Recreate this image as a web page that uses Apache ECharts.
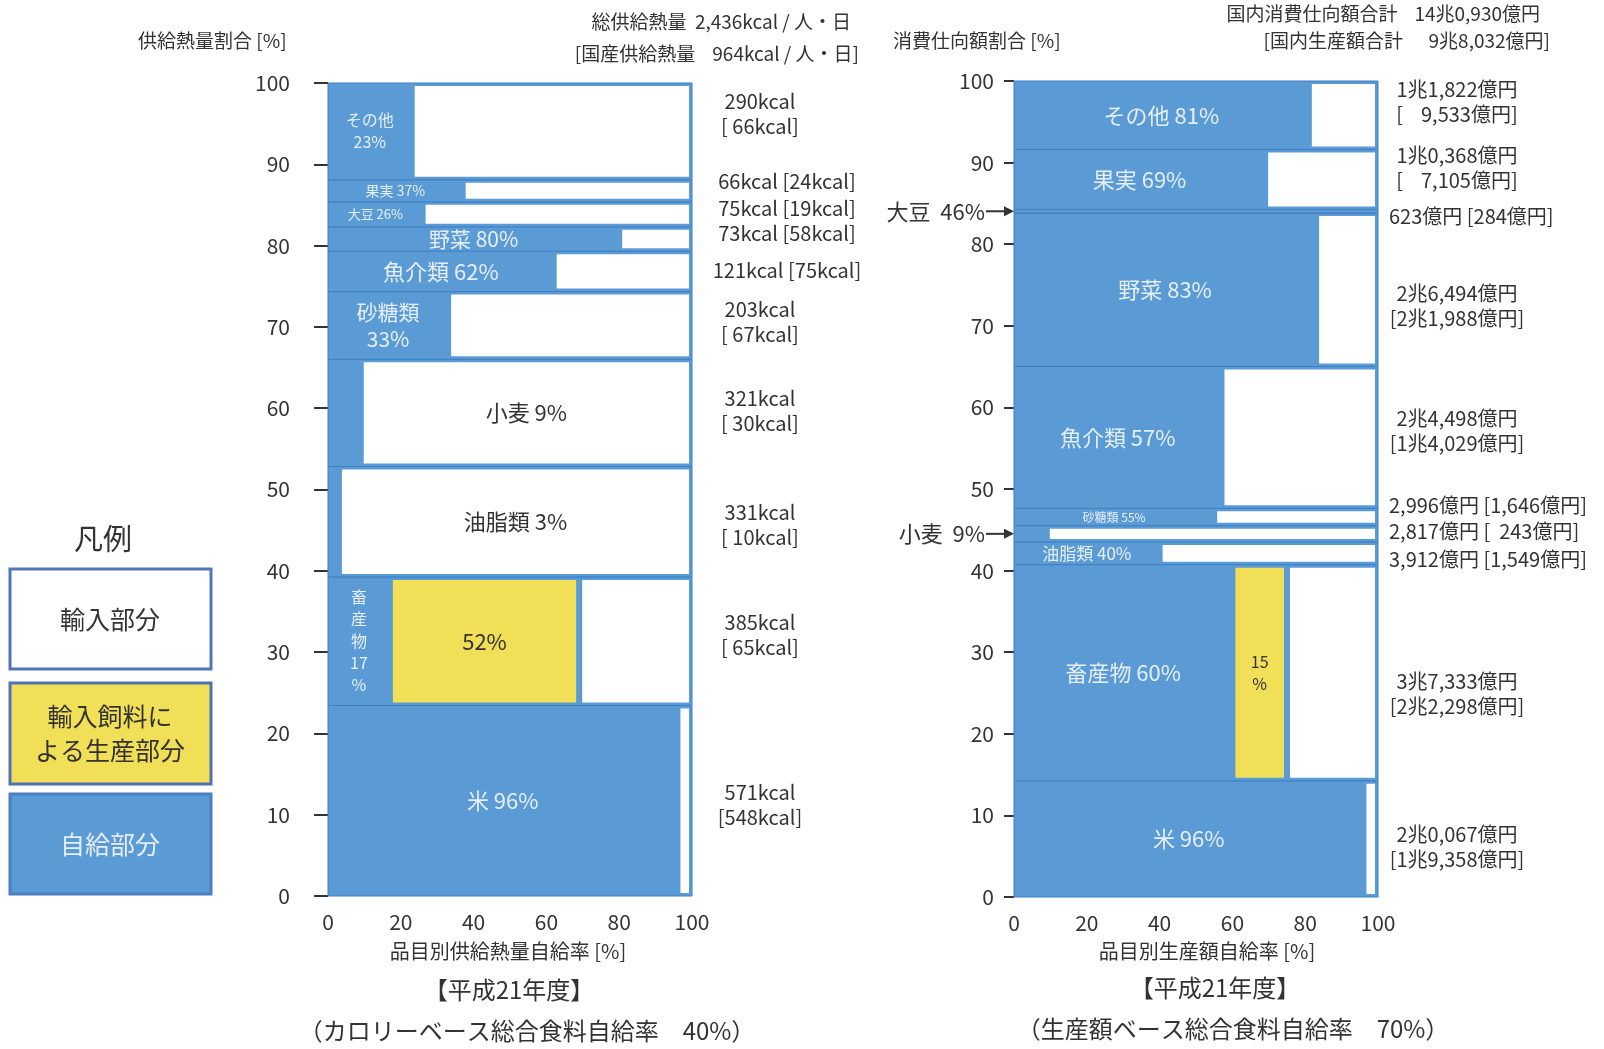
<!DOCTYPE html>
<html>
<head>
<meta charset="utf-8">
<script src="https://cdn.jsdelivr.net/npm/echarts/dist/echarts.min.js"></script>
<style>
  html, body { margin: 0; padding: 0; background: #ffffff; }
  #chart { width: 1604px; height: 1049px; }
</style>
</head>
<body>
<div id="chart"></div>
<script>
// 品目 (bottom to top of each column)
const items = ['米', '畜産物', '油脂類', '小麦', '砂糖類', '魚介類', '野菜', '大豆', '果実', 'その他'];

// カロリーベース: 供給熱量 [kcal/人・日] と国産供給熱量, 品目別自給率 [%]
const kcalTotal    = [571, 385, 331, 321, 203, 121, 73, 75, 66, 290];
const kcalDomestic = [548,  65,  10,  30,  67,  75, 58, 19, 24,  66];
const kcalRate     = [ 96,  17,   3,   9,  33,  62, 80, 26, 37,  23];
const kcalFeedRate = [  0,  52,   0,   0,   0,   0,  0,  0,  0,   0];
const kcalDomesticTotal = 964;

// 生産額ベース: 消費仕向額 [億円] と国内生産額, 品目別自給率 [%]
const valueTotal    = [20067, 37333, 3912, 2817, 2996, 24498, 26494, 623, 10368, 11822];
const valueDomestic = [19358, 22298, 1549,  243, 1646, 14029, 21988, 284,  7105,  9533];
const valueRate     = [   96,    60,   40,    9,   55,    57,    83,  46,    69,    81];
const valueFeedRate = [    0,    15,    0,    0,    0,     0,     0,   0,     0,     0];
const valueDomesticTotal = 98032;

const xTicks = [0, 20, 40, 60, 80, 100];
const yTicks = [0, 10, 20, 30, 40, 50, 60, 70, 80, 90, 100];

// ---- styling ----
const FONT = '"Noto Sans CJK JP", "Noto Sans", sans-serif';
const BLUE = '#5b9bd5';
const EDGE = '#3f7fc3';
const YELLOW = '#f1df58';
const DARK = '#333333';
const LIGHT = '#e6eef8';

// label layout per band (same order as items)
const leftLabelLayout = [
  { mode: 'line', size: 22 },
  { mode: 'vertical', size: 16, lh: 22, feedSize: 22 },
  { mode: 'white', size: 22 },
  { mode: 'white', size: 22 },
  { mode: 'wrap', size: 21, lh: 27 },
  { mode: 'line', size: 22 },
  { mode: 'line', size: 21 },
  { mode: 'line', size: 13 },
  { mode: 'line', size: 14 },
  { mode: 'wrap', size: 16, lh: 22 }
];
const leftNoteLayout = [
  { two: true, dy: 4 }, { two: true, dy: -6 }, { two: true, dy: 3 }, { two: true, dy: -2 },
  { two: true, dy: -4 }, { two: false, dy: -1 }, { two: false, dy: -6 }, { two: false, dy: -6 },
  { two: false, dy: -9 }, { two: true, dy: -17 }
];
const rightLabelLayout = [
  { mode: 'line', size: 22 },
  { mode: 'line', size: 22, feedSize: 16, feedWrap: true },
  { mode: 'line', size: 17 },
  { mode: 'arrow', size: 22 },
  { mode: 'line', size: 12 },
  { mode: 'line', size: 22 },
  { mode: 'line', size: 22 },
  { mode: 'arrow', size: 22 },
  { mode: 'line', size: 22 },
  { mode: 'line', size: 22 }
];
const rightNoteLayout = [
  { two: true, dy: 8 }, { two: true, dy: 21 }, { two: false, dy: 6 }, { two: false, dy: -2 },
  { two: false, dy: -12 }, { two: true, dy: -7 }, { two: true, dy: 16 }, { two: false, dy: 5 },
  { two: true, dy: -12 }, { two: true, dy: -13 }
];

// ---- helpers ----
function cumulativeShares(values) {
  const total = values.reduce((a, b) => a + b, 0);
  const lo = [], hi = [];
  let acc = 0;
  values.forEach(v => {
    lo.push(acc / total * 100);
    acc += v;
    hi.push(acc / total * 100);
  });
  return { lo, hi, total };
}
function withComma(v) {
  return v.toString().replace(/\B(?=(\d{3})+(?!\d))/g, ',');
}
function oku(v) {
  const cho = Math.floor(v / 10000), rest = v % 10000;
  if (cho > 0) return cho + '兆' + Math.floor(rest / 1000) + ',' + String(rest % 1000).padStart(3, '0') + '億円';
  if (v >= 1000) return Math.floor(v / 1000) + ',' + String(v % 1000).padStart(3, '0') + '億円';
  return v + '億円';
}
function kcalNote(i, two) {
  const d = kcalDomestic[i];
  if (two) return kcalTotal[i] + 'kcal\n[' + (d < 100 ? ' ' : '') + d + 'kcal]';
  return kcalTotal[i] + 'kcal [' + d + 'kcal]';
}
function yenNote(i, two) {
  const t = valueTotal[i], d = valueDomestic[i];
  if (two) return oku(t) + '\n[' + (d < 10000 ? '    ' : '') + oku(d) + ']';
  return oku(t) + ' [' + (d < 1000 && t >= 1000 ? '  ' : '') + oku(d) + ']';
}

const kcalShares = cumulativeShares(kcalTotal);
const valueShares = cumulativeShares(valueTotal);

function txt(x, y, text, size, color, align, lh) {
  return {
    type: 'text', x: x, y: y, silent: true,
    style: {
      text: text, fill: color, fontSize: size, fontFamily: FONT,
      align: align || 'center', verticalAlign: 'middle', lineHeight: lh || Math.round(size * 1.25)
    }
  };
}

function makeRender(spec) {
  return function (params, api) {
    const i = params.dataIndex;
    const y0 = api.value(0), y1 = api.value(1);
    const r = spec.rate[i], f = spec.feed[i];
    const pA = api.coord([0, y0]), pB = api.coord([100, y1]);
    const left = pA[0], right = pB[0], bottom = pA[1], top = pB[1];
    const xr = api.coord([r, y0])[0];
    const xf = api.coord([r + f, y0])[0];
    const g = 3;
    const cy = (top + bottom) / 2;
    const kids = [];
    kids.push({
      type: 'rect', shape: { x: left, y: top, width: right - left, height: bottom - top },
      style: { fill: BLUE, stroke: EDGE, lineWidth: 1 }
    });
    const ih = bottom - top - 2 * g;
    if (ih > 0.5) {
      if (f > 0) {
        kids.push({ type: 'rect', shape: { x: xr + g, y: top + g, width: xf - xr - 2 * g, height: ih }, style: { fill: YELLOW } });
      }
      kids.push({ type: 'rect', shape: { x: xf + g, y: top + g, width: right - g - (xf + g), height: ih }, style: { fill: '#ffffff' } });
    }
    // item label
    const L = spec.labels[i];
    const name = items[i];
    const bx = (left + xr) / 2;
    if (L.mode === 'line') {
      kids.push(txt(bx, cy, name + ' ' + r + '%', L.size, LIGHT));
    } else if (L.mode === 'wrap') {
      kids.push(txt(bx, cy, name + '\n' + r + '%', L.size, LIGHT, 'center', L.lh));
    } else if (L.mode === 'vertical') {
      kids.push(txt(bx, cy, name.split('').join('\n') + '\n' + r + '\n%', L.size, LIGHT, 'center', L.lh));
    } else if (L.mode === 'white') {
      kids.push(txt((xf + right) / 2, cy, name + ' ' + r + '%', L.size, DARK));
    } else if (L.mode === 'arrow') {
      const ax = left - 29;
      kids.push(txt(ax, cy, name + '  ' + r + '%', L.size, DARK, 'right'));
      kids.push({ type: 'line', shape: { x1: ax + 1, y1: cy, x2: left - 8, y2: cy }, style: { stroke: DARK, lineWidth: 2 } });
      kids.push({ type: 'polygon', shape: { points: [[left, cy], [left - 10, cy - 5], [left - 10, cy + 5]] }, style: { fill: DARK } });
    }
    if (f > 0) {
      kids.push(txt((xr + xf) / 2, cy, L.feedWrap ? f + '\n%' : f + '%', L.feedSize, DARK, 'center', L.feedWrap ? 22 : null));
    }
    // supply note on the right
    const N = spec.notes[i];
    const noteText = spec.noteText(i, N.two);
    if (N.two) {
      kids.push(txt(spec.noteCenter, cy + N.dy, noteText, 20, DARK, 'center', 25));
    } else {
      kids.push(txt(spec.noteSingleX, cy + N.dy, noteText, 20, DARK, spec.noteSingleAlign));
    }
    return { type: 'group', children: kids };
  };
}

function xAxisOf(gridIndex) {
  return {
    type: 'value', gridIndex: gridIndex, min: xTicks[0], max: xTicks[xTicks.length - 1],
    interval: xTicks[1] - xTicks[0],
    axisLine: { show: false }, axisTick: { show: false }, splitLine: { show: false },
    axisLabel: { fontSize: 21, color: DARK, fontFamily: FONT, margin: 16 }
  };
}
function yAxisOf(gridIndex, tickLen, margin) {
  return {
    type: 'value', gridIndex: gridIndex, min: yTicks[0], max: yTicks[yTicks.length - 1],
    interval: yTicks[1] - yTicks[0],
    axisLine: { show: false }, splitLine: { show: false },
    axisTick: { show: true, length: tickLen, lineStyle: { color: DARK, width: 2 } },
    axisLabel: { fontSize: 21, color: DARK, fontFamily: FONT, margin: margin }
  };
}

function legendBox(y, h, fill, stroke, text, color) {
  return {
    type: 'group', children: [
      { type: 'rect', shape: { x: 10, y: y, width: 201, height: h }, style: { fill: fill, stroke: stroke, lineWidth: 3 } },
      { type: 'text', x: 110, y: y + h / 2, style: { text: text, fill: color, fontSize: 25, fontFamily: FONT, align: 'center', verticalAlign: 'middle', lineHeight: 34 } }
    ]
  };
}
function gtext(x, y, text, size, align) {
  return { type: 'text', x: x, y: y, style: { text: text, fill: DARK, fontSize: size, fontFamily: FONT, align: align || 'center', verticalAlign: 'middle' } };
}

const chart = echarts.init(document.getElementById('chart'), null, { renderer: 'canvas' });
chart.setOption({
  backgroundColor: '#ffffff',
  animation: false,
  grid: [
    { left: 328, top: 83, width: 364, height: 813 },
    { left: 1014, top: 81, width: 364, height: 816 }
  ],
  xAxis: [xAxisOf(0), xAxisOf(1)],
  yAxis: [yAxisOf(0, 14, 38), yAxisOf(1, 10, 20)],
  series: [
    {
      type: 'custom', xAxisIndex: 0, yAxisIndex: 0, clip: false,
      encode: { y: [0, 1] },
      data: items.map((n, i) => [kcalShares.lo[i], kcalShares.hi[i]]),
      renderItem: makeRender({
        rate: kcalRate, feed: kcalFeedRate, labels: leftLabelLayout, notes: leftNoteLayout,
        noteText: kcalNote, noteCenter: 760, noteSingleX: 787, noteSingleAlign: 'center'
      })
    },
    {
      type: 'custom', xAxisIndex: 1, yAxisIndex: 1, clip: false,
      encode: { y: [0, 1] },
      data: items.map((n, i) => [valueShares.lo[i], valueShares.hi[i]]),
      renderItem: makeRender({
        rate: valueRate, feed: valueFeedRate, labels: rightLabelLayout, notes: rightNoteLayout,
        noteText: yenNote, noteCenter: 1457, noteSingleX: 1389, noteSingleAlign: 'left'
      })
    }
  ],
  graphic: [
    // column headers
    gtext(138, 41, '供給熱量割合 [%]', 19, 'left'),
    gtext(851, 22, '総供給熱量  ' + withComma(kcalShares.total) + 'kcal / 人・日', 19, 'right'),
    gtext(859, 54, '[国産供給熱量    ' + kcalDomesticTotal + 'kcal / 人・日]', 19, 'right'),
    gtext(893, 41, '消費仕向額割合 [%]', 19, 'left'),
    gtext(1540, 14, '国内消費仕向額合計    ' + oku(valueShares.total), 19, 'right'),
    gtext(1550, 41, '[国内生産額合計      ' + oku(valueDomesticTotal) + ']', 19, 'right'),
    // axis names and captions
    gtext(508, 951, '品目別供給熱量自給率 [%]', 20),
    gtext(509, 990, '【平成21年度】', 24),
    gtext(527, 1031, '（カロリーベース総合食料自給率　40%）', 24),
    gtext(1207, 951, '品目別生産額自給率 [%]', 20),
    gtext(1215, 988, '【平成21年度】', 24),
    gtext(1233, 1029, '（生産額ベース総合食料自給率　70%）', 24),
    // legend
    gtext(103, 539, '凡例', 29),
    legendBox(569, 100, '#ffffff', '#5274b8', '輸入部分', DARK),
    legendBox(683, 101, YELLOW, '#4f72b4', '輸入飼料に\nよる生産部分', DARK),
    legendBox(794, 100, BLUE, '#4d7fc0', '自給部分', LIGHT)
  ]
});
</script>
</body>
</html>
